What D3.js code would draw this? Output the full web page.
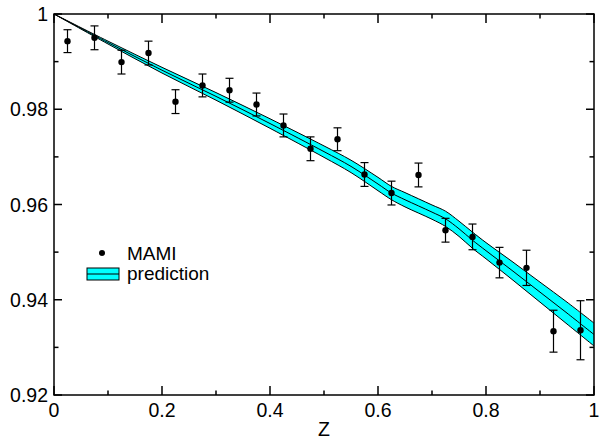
<!DOCTYPE html>
<html>
<head>
<meta charset="utf-8">
<script src="https://cdn.jsdelivr.net/npm/d3@7"></script>
<style>
  html, body { margin: 0; padding: 0; background: #fff; }
  svg text { font-family: "Liberation Sans", Arial, Helvetica, sans-serif; fill: #000; }
</style>
</head>
<body>
<svg id="chart" width="600" height="440"></svg>
<script>
// MAMI data points
const pointZ = [0.025, 0.075, 0.125, 0.175, 0.225, 0.275, 0.325, 0.375, 0.425, 0.475,
                0.525, 0.575, 0.625, 0.675, 0.725, 0.775, 0.825, 0.875, 0.925, 0.975];
const pointVal = [0.9943, 0.9950, 0.9899, 0.9918, 0.9816, 0.9850, 0.9840, 0.9810, 0.9766, 0.9717,
                  0.9737, 0.9663, 0.9624, 0.9662, 0.9546, 0.9532, 0.9478, 0.9467, 0.9334, 0.9336];
const pointErr = [0.0024, 0.0025, 0.0025, 0.0025, 0.0025, 0.0024, 0.0025, 0.0024, 0.0024, 0.0025,
                  0.0024, 0.0025, 0.0025, 0.0025, 0.0025, 0.0027, 0.0032, 0.0037, 0.0044, 0.0062];

// prediction band
const bandZ = [0, 0.1, 0.2, 0.3, 0.4, 0.5, 0.55, 0.6, 0.625, 0.65, 0.7, 0.725, 0.75, 0.775, 0.8, 0.85, 0.9, 0.95, 1.0];
const bandCenter = [1.0, 0.9940, 0.9882, 0.9827, 0.9770, 0.9711, 0.9680, 0.9643, 0.9624, 0.9610,
                    0.9584, 0.9570, 0.9549, 0.9525, 0.9503, 0.9460, 0.9416, 0.9372, 0.9327];
const bandHalf = [0, 0.0003, 0.0006, 0.0008, 0.0010, 0.0012, 0.0013, 0.0014, 0.0014, 0.0015,
                  0.0015, 0.0016, 0.0016, 0.0017, 0.0017, 0.0019, 0.0021, 0.0023, 0.0024];

const xTicks = [0, 0.2, 0.4, 0.6, 0.8, 1];
const xMinor = [0.1, 0.3, 0.5, 0.7, 0.9];
const yTicks = [0.92, 0.94, 0.96, 0.98, 1];
const yMinor = [0.93, 0.95, 0.97, 0.99];

const svg = d3.select("#chart");
const pL = 54, pR = 594, pT = 14, pB = 395;

const x = d3.scaleLinear().domain([0, 1]).range([pL, pR]);
const y = d3.scaleLinear().domain([0.92, 1]).range([pB, pT]);

const band = bandZ.map((z, i) => ({ z, c: bandCenter[i], lo: bandCenter[i] - bandHalf[i], hi: bandCenter[i] + bandHalf[i] }));
const pts = pointZ.map((z, i) => ({ z, v: pointVal[i], e: pointErr[i] }));

const g = svg.append("g");
g.append("clipPath").attr("id", "clip")
  .append("rect").attr("x", pL).attr("y", pT).attr("width", pR - pL).attr("height", pB - pT);

const plot = g.append("g").attr("clip-path", "url(#clip)");
const curve = d3.curveCatmullRom.alpha(0.5);

plot.append("path")
  .datum(band)
  .attr("d", d3.area().x(d => x(d.z)).y0(d => y(d.lo)).y1(d => y(d.hi)).curve(curve))
  .attr("fill", "#00ffff");

["lo", "hi", "c"].forEach(k => {
  plot.append("path")
    .datum(band)
    .attr("d", d3.line().x(d => x(d.z)).y(d => y(d[k])).curve(curve))
    .attr("fill", "none")
    .attr("stroke", "#000")
    .attr("stroke-width", 1);
});

// error bars
const eb = g.append("g");
pts.forEach(d => {
  const cx = x(d.z);
  eb.append("line").attr("x1", cx).attr("x2", cx).attr("y1", y(d.v - d.e)).attr("y2", y(d.v + d.e))
    .attr("stroke", "#000").attr("stroke-width", 1.2);
  [d.v - d.e, d.v + d.e].forEach(v => {
    eb.append("line").attr("x1", cx - 4).attr("x2", cx + 4).attr("y1", y(v)).attr("y2", y(v))
      .attr("stroke", "#000").attr("stroke-width", 1.2);
  });
});
g.append("g").selectAll("circle")
  .data(pts)
  .enter()
  .append("circle")
  .attr("cx", d => x(d.z))
  .attr("cy", d => y(d.v))
  .attr("r", 3.2)
  .attr("fill", "#000");

// frame and ticks (inward, on all four sides)
const axes = g.append("g").attr("stroke", "#000").attr("stroke-width", 1.5);
axes.append("rect").attr("x", pL).attr("y", pT).attr("width", pR - pL).attr("height", pB - pT)
  .attr("fill", "none");

const tickAt = (vals, len, isX) => vals.forEach(v => {
  if (isX) {
    axes.append("line").attr("x1", x(v)).attr("x2", x(v)).attr("y1", pB).attr("y2", pB - len);
    axes.append("line").attr("x1", x(v)).attr("x2", x(v)).attr("y1", pT).attr("y2", pT + len);
  } else {
    axes.append("line").attr("x1", pL).attr("x2", pL + len).attr("y1", y(v)).attr("y2", y(v));
    axes.append("line").attr("x1", pR).attr("x2", pR - len).attr("y1", y(v)).attr("y2", y(v));
  }
});
tickAt(xTicks, 9, true);
tickAt(xMinor, 4.5, true);
tickAt(yTicks, 8, false);
tickAt(yMinor, 4.5, false);

g.append("g").selectAll("text")
  .data(xTicks)
  .enter()
  .append("text")
  .attr("x", d => x(d))
  .attr("y", 417)
  .attr("text-anchor", "middle")
  .style("font-size", "19.5px")
  .text(d => d3.format("~g")(d));

g.append("g").selectAll("text")
  .data(yTicks)
  .enter()
  .append("text")
  .attr("x", 48)
  .attr("y", d => y(d) + 7)
  .attr("text-anchor", "end")
  .style("font-size", "19.5px")
  .text(d => d3.format("~g")(d));

g.append("text")
  .attr("x", (pL + pR) / 2)
  .attr("y", 436)
  .attr("text-anchor", "middle")
  .style("font-size", "19.5px")
  .text("Z");

// legend
const lg = g.append("g");
lg.append("circle").attr("cx", 102).attr("cy", 253).attr("r", 3).attr("fill", "#000");
lg.append("text").attr("x", 127).attr("y", 260).style("font-size", "19px").text("MAMI");
lg.append("rect").attr("x", 87).attr("y", 268).attr("width", 32).attr("height", 12)
  .attr("fill", "#00ffff").attr("stroke", "#000").attr("stroke-width", 1);
lg.append("line").attr("x1", 87).attr("x2", 119).attr("y1", 274).attr("y2", 274)
  .attr("stroke", "#000").attr("stroke-width", 1);
lg.append("text").attr("x", 127).attr("y", 280).style("font-size", "19px").text("prediction");
</script>
</body>
</html>
